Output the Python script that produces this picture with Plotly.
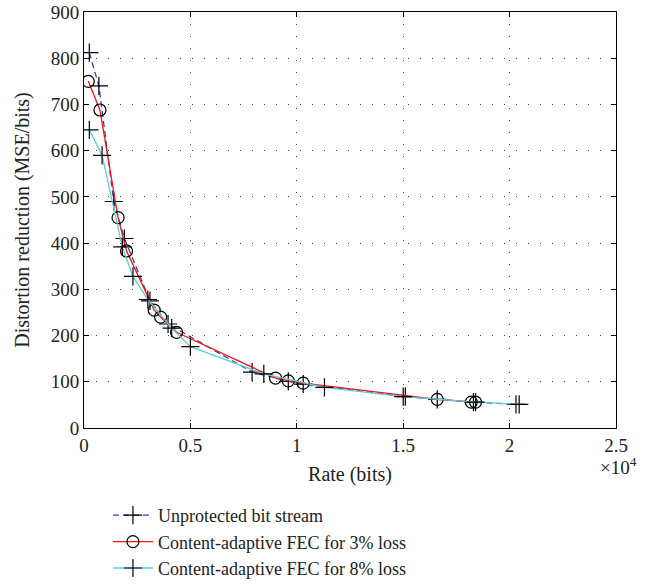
import plotly.graph_objects as go

# Rate (bits) vs distortion reduction (MSE/bits) for each protection scheme
unprot_rate = [250, 700, 1400, 1900, 3100, 3950, 7900, 9600, 10300, 15100, 16600, 18300, 20300]
unprot_dist = [812, 740, 490, 410, 275, 225, 121, 101, 95, 68, 62, 56, 51]

fec3_rate = [200, 750, 1600, 2000, 3300, 3600, 4350, 9000, 9600, 10300, 16600, 18200, 18400]
fec3_dist = [750, 688, 455, 383, 255, 240, 207, 108, 102, 97, 62, 56, 56]

fec8_rate = [250, 850, 1800, 2300, 3000, 4120, 5000, 8450, 11300, 15000, 18400, 20450]
fec8_dist = [645, 590, 392, 328, 278, 216, 176, 117, 88, 68, 56, 51]

x_tickvals = [0, 5000, 10000, 15000, 20000, 25000]
x_ticktext = ["0", "0.5", "1", "1.5", "2", "2.5"]
y_tickvals = [0, 100, 200, 300, 400, 500, 600, 700, 800, 900]

names = [
    "Unprotected bit stream",
    "Content-adaptive FEC for 3% loss",
    "Content-adaptive FEC for 8% loss",
]

FONT = "Liberation Serif"
TXT = "#222222"

fig = go.Figure()
fig.add_trace(go.Scatter(
    x=unprot_rate, y=unprot_dist, name=names[0], mode="lines+markers",
    line=dict(color="#2846b4", width=1.3, dash="6px,4px"),
    marker=dict(symbol="cross-thin-open", size=13, color="black",
                line=dict(color="black", width=1.2)),
))
fig.add_trace(go.Scatter(
    x=fec3_rate, y=fec3_dist, name=names[1], mode="lines+markers",
    line=dict(color="#ff1010", width=1.3),
    marker=dict(symbol="circle-open", size=12, color="black",
                line=dict(color="black", width=1.2)),
))
fig.add_trace(go.Scatter(
    x=fec8_rate, y=fec8_dist, name=names[2], mode="lines+markers",
    line=dict(color="#5ccfd8", width=1.3),
    marker=dict(symbol="cross-thin-open", size=13, color="black",
                line=dict(color="black", width=1.2)),
))

axis_common = dict(
    showline=True, linecolor="black", linewidth=1, mirror="ticks",
    ticks="inside", ticklen=5, tickcolor="black",
    showgrid=True, gridcolor="#444444", gridwidth=1, griddash="1px,11px",
    zeroline=False, automargin=False,
    tickfont=dict(family=FONT, size=19, color=TXT),
)

fig.update_xaxes(range=[0, 25000], tickvals=x_tickvals, ticktext=x_ticktext,
                 title=dict(text="Rate (bits)", font=dict(family=FONT, size=20, color=TXT),
                            standoff=12),
                 **axis_common)
fig.update_yaxes(range=[0, 900], tickvals=y_tickvals,
                 title=dict(text="Distortion reduction (MSE/bits)",
                            font=dict(family=FONT, size=20, color=TXT), standoff=15),
                 **axis_common)

fig.add_annotation(text="×10<sup>4</sup>", xref="paper", yref="paper",
                   x=1.0, y=-0.091, xanchor="left", yanchor="middle", showarrow=False,
                   font=dict(family=FONT, size=19, color=TXT), xshift=-18)

fig.update_layout(
    width=659, height=584,
    margin=dict(l=84, r=43, t=12, b=156),
    paper_bgcolor="white", plot_bgcolor="white",
    showlegend=True,
    legend=dict(xref="paper", yref="container", x=0.045, y=0.149,
                xanchor="left", yanchor="top",
                font=dict(family=FONT, size=18, color=TXT),
                tracegroupgap=0, itemwidth=40, bgcolor="rgba(0,0,0,0)"),
)

fig.write_html("out.html")
